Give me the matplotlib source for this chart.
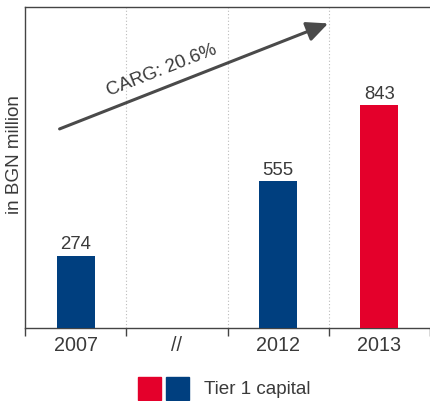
import matplotlib
matplotlib.use("Agg")
import matplotlib.pyplot as plt
from matplotlib.patches import Rectangle, FancyArrowPatch

# data
categories = ["2007", "//", "2012", "2013"]
values = [274, None, 555, 843]
bar_colors = ["#003F7F", None, "#003F7F", "#E4002B"]
growth_label = "CARG: 20.6%"
legend_label = "Tier 1 capital"

plt.rcParams["font.family"] = ["Liberation Sans", "DejaVu Sans"]
text_color = "#3a3a3a"
axis_color = "#444444"

fig = plt.figure(figsize=(4.30, 4.02), dpi=100)
ax = fig.add_axes([25 / 430, 1 - 329 / 402, 405 / 430, 321 / 402])

xs = list(range(len(categories)))
for x, v, c in zip(xs, values, bar_colors):
    if v is None:
        continue
    ax.bar(x, v, width=0.375, color=c, zorder=3)
    ax.text(x, v + 12, str(v), ha="center", va="bottom", fontsize=13.4,
            color=text_color)

ax.set_xlim(-0.5, len(categories) - 0.5)
ax.set_ylim(0, 1214)

# category labels at centers, tick marks at the boundaries
ax.set_xticks(xs)
ax.set_xticklabels(categories, fontsize=14.2, color=text_color)
ax.tick_params(axis="x", which="major", length=0, pad=5)
bounds = [i - 0.5 for i in range(len(categories))] + [len(categories) - 0.5]
ax.set_xticks(bounds, minor=True)
ax.tick_params(axis="x", which="minor", length=6, width=1, color=axis_color)
ax.set_yticks([])

for b in bounds[1:-1]:
    ax.axvline(b, color="#BBBBBB", lw=0.8, ls=(0, (1, 2)), zorder=1)

for side in ["left", "top", "bottom"]:
    ax.spines[side].set_color(axis_color)
    ax.spines[side].set_linewidth(1)
ax.spines["right"].set_visible(False)

ax.set_ylabel("in BGN million", fontsize=13.6, color=text_color)
ax.yaxis.set_label_coords(-0.005, 0.542)

# growth arrow
arrow = FancyArrowPatch((0.079, 0.617), (0.755, 0.952), transform=ax.transAxes,
                        arrowstyle="-|>,head_length=0.65,head_width=0.3",
                        mutation_scale=20, lw=2.2, color="#4a4a4a", zorder=4)
ax.add_patch(arrow)
ax.text(0.338, 0.805, growth_label, transform=ax.transAxes, rotation=21.4,
        rotation_mode="anchor", ha="center", va="center", fontsize=13.4,
        color=text_color)

# legend: two swatches + label
fig.add_artist(Rectangle((138 / 430, 1 / 402), 23 / 430, 23 / 402,
                         transform=fig.transFigure, color=bar_colors[3]))
fig.add_artist(Rectangle((166 / 430, 1 / 402), 23 / 430, 23 / 402,
                         transform=fig.transFigure, color=bar_colors[0]))
fig.text(204 / 430, 12 / 402, legend_label, fontsize=13.6, color=text_color,
         va="center", ha="left")

fig.savefig("out.png", dpi=100)
